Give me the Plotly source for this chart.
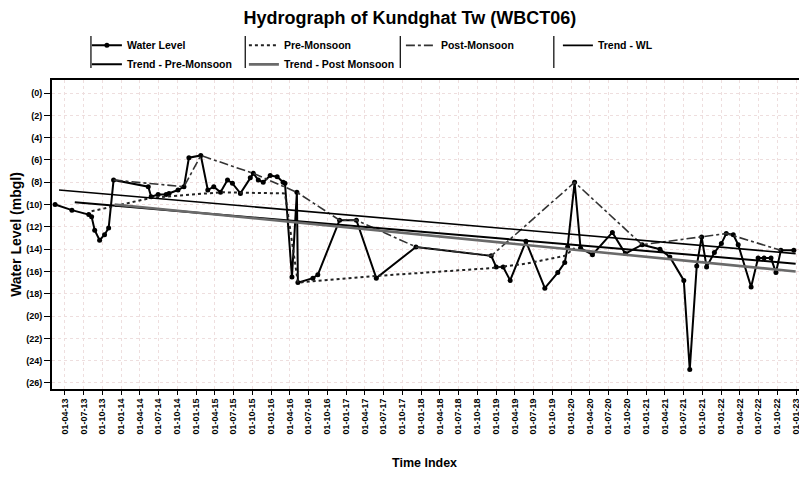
import plotly.graph_objects as go

# ---------------- data ----------------
wl_dates = ["2013-02-12","2013-05-05","2013-07-26","2013-08-09","2013-08-24","2013-09-17","2013-10-11","2013-10-31",
            "2013-11-24","2014-05-12","2014-05-26","2014-06-29","2014-08-07","2014-08-21","2014-10-04","2014-11-02",
            "2014-11-26","2015-01-23","2015-02-26","2015-03-27","2015-04-29","2015-06-02","2015-06-26","2015-08-04",
            "2015-09-21","2015-10-06","2015-10-30","2015-11-23","2015-12-27","2016-01-30","2016-02-28","2016-03-08",
            "2016-04-11","2016-05-05","2016-05-10","2016-07-22","2016-08-15","2016-11-29","2017-02-19","2017-05-27",
            "2017-12-06","2018-12-08","2019-01-01","2019-02-04","2019-03-10","2019-05-26","2019-08-26","2019-10-28",
            "2019-12-01","2019-12-15","2020-01-18","2020-02-16","2020-04-14","2020-07-20","2020-09-21","2020-12-12",
            "2021-03-09","2021-04-26","2021-07-03","2021-08-01","2021-09-04","2021-09-28","2021-10-22","2021-11-29",
            "2022-01-02","2022-01-26","2022-03-01","2022-03-25","2022-05-27","2022-06-30","2022-07-29","2022-09-01",
            "2022-09-25","2022-10-19","2022-12-21"]
wl_values = [10.0,10.5,10.9,11.1,12.3,13.2,12.7,12.1,
             7.8,8.4,9.3,9.1,9.1,9.0,8.7,8.4,
             5.8,5.6,8.7,8.4,8.9,7.8,8.1,9.0,
             7.6,7.2,7.8,8.0,7.4,7.5,8.0,8.1,
             16.5,8.9,17.0,16.6,16.3,11.4,11.4,16.6,
             13.8,14.6,15.6,15.6,16.8,13.3,17.5,16.1,
             15.2,13.8,8.0,13.9,14.5,12.5,14.4,13.6,
             14.0,14.7,16.8,24.8,15.5,12.9,15.6,14.3,
             13.5,12.6,12.7,13.6,17.4,14.8,14.8,14.8,
             16.1,14.1,14.1]

pre_dates = ["2013-08-09","2014-05-26","2015-04-29","2016-03-08","2016-05-10","2017-05-27",
             "2018-12-08","2019-05-26","2019-12-01","2020-01-18"]
pre_values = [10.6,9.4,8.9,9.0,17.0,16.4,15.7,15.3,14.6,13.9]

post_dates = ["2013-11-24","2014-11-02","2015-01-23","2015-10-06","2016-05-05","2016-11-29","2017-02-19",
              "2017-12-06","2018-12-08","2020-01-18","2020-12-12","2021-09-28","2022-01-26","2022-10-19"]
post_values = [7.8,8.4,5.6,7.2,8.9,11.4,11.4,13.8,14.6,8.0,13.6,12.9,12.6,14.1]

trend_wl_dates = ["2013-03-03","2022-12-30"]
trend_wl_values = [8.7,14.4]
trend_pre_dates = ["2013-05-19","2022-12-30"]
trend_pre_values = [9.8,15.3]
trend_post_dates = ["2013-11-29","2022-12-30"]
trend_post_values = [10.0,16.0]

tick_dates = []
tick_labels = []
for yr in range(13, 24):
    for mo in ("01", "04", "07", "10"):
        if (yr == 13 and mo == "01") or (yr == 23 and mo != "01"):
            continue
        tick_dates.append(f"20{yr}-{mo}-01")
        tick_labels.append(f"01-{mo}-{yr}")

y_ticks = list(range(0, 27, 2))
y_tick_labels = [f"({v})" for v in y_ticks]

# ---------------- figure ----------------
FONT = "Arial, Liberation Sans, sans-serif"
fig = go.Figure()

fig.add_trace(go.Scatter(x=wl_dates, y=wl_values, name="<b>Water Level</b>", mode="lines+markers",
                         line=dict(color="black", width=2), marker=dict(size=5, color="black")))
fig.add_trace(go.Scatter(x=pre_dates, y=pre_values, name="<b>Pre-Monsoon</b>", mode="lines",
                         line=dict(color="#222", width=2, dash="dot")))
fig.add_trace(go.Scatter(x=post_dates, y=post_values, name="<b>Post-Monsoon</b>", mode="lines",
                         line=dict(color="#333", width=1.6, dash="dashdot")))
fig.add_trace(go.Scatter(x=trend_wl_dates, y=trend_wl_values, name="<b>Trend - WL</b>", mode="lines",
                         line=dict(color="black", width=1.6)))
fig.add_trace(go.Scatter(x=trend_pre_dates, y=trend_pre_values, name="<b>Trend - Pre-Monsoon</b>", mode="lines",
                         line=dict(color="black", width=2)))
fig.add_trace(go.Scatter(x=trend_post_dates, y=trend_post_values, name="<b>Trend - Post Monsoon</b>", mode="lines",
                         line=dict(color="#6a6a6a", width=2.6)))

for xp in (0.052, 0.258, 0.465, 0.670):
    fig.add_shape(type="line", xref="paper", yref="paper", x0=xp, x1=xp, y0=1.039, y1=1.142,
                  line=dict(color="black", width=1.2))

fig.add_annotation(text="<b>Time Index</b>", xref="paper", yref="paper", x=0.497, y=-0.2395,
                   xanchor="center", yanchor="middle", showarrow=False,
                   font=dict(size=12.5, family=FONT, color="black"))

# page body has an 8px margin, so figure is 799x475 and shifted accordingly
fig.update_layout(
    width=799, height=475,
    margin=dict(l=44, r=4, t=72, b=94),
    paper_bgcolor="white", plot_bgcolor="white",
    font=dict(family=FONT, color="black"),
    title=dict(text="<b>Hydrograph of Kundghat Tw (WBCT06)</b>", x=0.503, xanchor="center",
               y=0.979, yanchor="middle", font=dict(size=18, family=FONT)),
    legend=dict(orientation="h", x=0.0466, xanchor="left", y=1.159, yanchor="top",
                entrywidth=112, entrywidthmode="pixels", font=dict(size=10.5, family=FONT),
                itemwidth=30, tracegroupgap=0, bgcolor="rgba(0,0,0,0)"),
    showlegend=True,
)

fig.update_xaxes(type="date", range=["2013-01-28", "2023-01-25"],
                 tickmode="array", tickvals=tick_dates, ticktext=[f"<b>{t}</b>" for t in tick_labels],
                 tickangle=-90, tickfont=dict(size=9, family=FONT),
                 ticks="outside", ticklen=4, tickcolor="black",
                 showline=True, linecolor="black", linewidth=2, mirror=True,
                 showgrid=True, gridcolor="#eedede", griddash="dot", gridwidth=1,
                 zeroline=False)
fig.update_yaxes(range=[26.54, -1.17], tickmode="array", tickvals=y_ticks,
                 ticktext=[f"<b>{t}</b>" for t in y_tick_labels], tickfont=dict(size=9, family=FONT),
                 ticks="outside", ticklen=6, tickcolor="black",
                 showline=True, linecolor="black", linewidth=2, mirror=True,
                 showgrid=True, gridcolor="#eedede", griddash="dot", gridwidth=1,
                 title=dict(text="<b>Water Level (mbgl)</b>", font=dict(size=14, family=FONT), standoff=2),
                 zeroline=False)

fig.write_html("out.html")
